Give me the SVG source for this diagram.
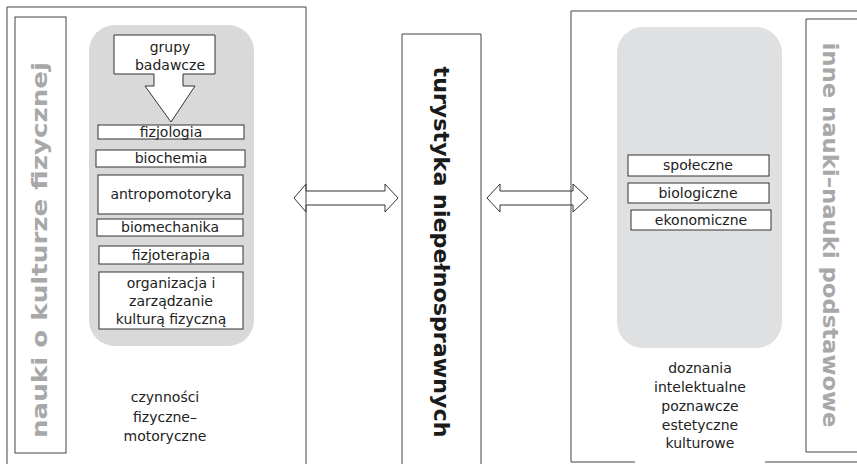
<svg xmlns="http://www.w3.org/2000/svg" width="857" height="464" viewBox="0 0 857 464">
<style>
.frame{fill:none;stroke:#444;stroke-width:1}
.box{fill:#fff;stroke:#333;stroke-width:1}
.panel{stroke:none}
.lbl{font-family:"DejaVu Sans","Liberation Sans",sans-serif;font-size:14px;fill:#222;text-anchor:middle}
.vert{font-family:"DejaVu Sans","Liberation Sans",sans-serif;font-weight:bold;font-size:21px;text-anchor:middle}
.arrow{fill:#fff;stroke:#333;stroke-width:1;stroke-linejoin:miter}
</style>
<rect width="857" height="464" fill="#fff"/>
<g id="connectors">
<path class="arrow" d="M294,198 L306,184 V191 H385 V184 L398,198 L385,212 V205 H306 V212 Z"/>
<path class="arrow" d="M487,198 L500,184 V191 H573 V184 L588,198 L573,212 V205 H500 V212 Z"/>
</g>
<g id="left-group">
<path class="frame" d="M7,464 V7 H306 V464"/>
<rect class="panel" x="89" y="25" width="165" height="321" rx="26" fill="#d9d9d9"/>
<g id="left-label">
<rect class="frame" x="15" y="17" width="51" height="436"/>
<text class="vert" fill="#a8a8a8" transform="translate(47,250) rotate(-90)" textLength="376" lengthAdjust="spacingAndGlyphs">nauki o kulturze fizycznej</text>
</g>
<g id="grupy">
<path class="box" d="M114,35 H215 V74 H183 V86 H195 L171,122 L145,86 H154 V74 H114 Z"/>
<text class="lbl" x="170" y="52">grupy</text>
<text class="lbl" x="170" y="70">badawcze</text>
</g>
<g id="fizjologia"><rect class="box" x="98" y="125" width="146" height="14"/><text class="lbl" x="171" y="137">fizjologia</text></g>
<g id="biochemia"><rect class="box" x="96" y="150" width="149" height="17"/><text class="lbl" x="171" y="163">biochemia</text></g>
<g id="antropomotoryka"><rect class="box" x="98" y="175" width="145" height="39"/><text class="lbl" x="171" y="199">antropomotoryka</text></g>
<g id="biomechanika"><rect class="box" x="97" y="219" width="146" height="17"/><text class="lbl" x="170" y="232">biomechanika</text></g>
<g id="fizjoterapia"><rect class="box" x="99" y="246" width="144" height="18"/><text class="lbl" x="171" y="260">fizjoterapia</text></g>
<g id="organizacja"><rect class="box" x="99" y="272" width="144" height="57"/>
<text class="lbl" x="171" y="288">organizacja i</text>
<text class="lbl" x="171" y="306">zarządzanie</text>
<text class="lbl" x="171" y="324">kulturą fizyczną</text></g>
<g id="czynnosci">
<text class="lbl" x="165" y="402">czynności</text>
<text class="lbl" x="165" y="422">fizyczne–</text>
<text class="lbl" x="165" y="441">motoryczne</text>
</g>
</g>
<g id="center">
<path class="frame" d="M402,464 V34 H481 V464"/>
<text class="vert" fill="#1a1a1a" transform="translate(434,252) rotate(90)" textLength="371" lengthAdjust="spacingAndGlyphs">turystyka niepełnosprawnych</text>
</g>
<g id="right-group">
<path class="frame" d="M857,11 H571 V462 H635 M765,462 H857"/>
<rect class="panel" x="617" y="27" width="165" height="321" rx="26" fill="#dfe0e2"/>
<g id="right-label">
<path class="frame" d="M857,19 H806 V452 H857"/>
<text class="vert" fill="#a8a8a8" transform="translate(823,235) rotate(90)" textLength="385" lengthAdjust="spacingAndGlyphs">inne nauki–nauki podstawowe</text>
</g>
<g id="spoleczne"><rect class="box" x="628" y="155" width="141" height="21"/><text class="lbl" x="698" y="170">społeczne</text></g>
<g id="biologiczne"><rect class="box" x="628" y="183" width="141" height="20"/><text class="lbl" x="698" y="198">biologiczne</text></g>
<g id="ekonomiczne"><rect class="box" x="631" y="210" width="140" height="20"/><text class="lbl" x="701" y="225">ekonomiczne</text></g>
<g id="doznania">
<text class="lbl" x="700" y="373">doznania</text>
<text class="lbl" x="700" y="392">intelektualne</text>
<text class="lbl" x="700" y="411">poznawcze</text>
<text class="lbl" x="700" y="430">estetyczne</text>
<text class="lbl" x="700" y="448">kulturowe</text>
</g>
</g>
</svg>
